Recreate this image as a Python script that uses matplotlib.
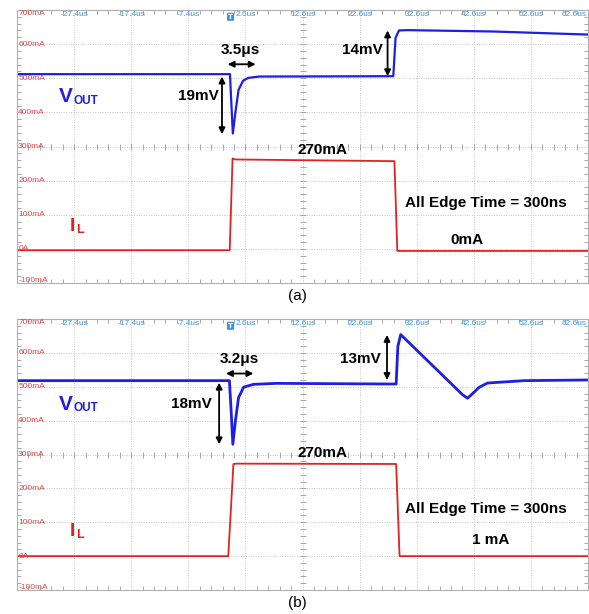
import matplotlib
matplotlib.use("Agg")
import matplotlib.pyplot as plt
import numpy as np

# ---- data (time in us, traces in screen "mA" units) ----
t_vout_a = [-37.4, -0.1, 0.1, 0.4, 0.85, 1.4, 2.2, 3.1, 5.0, 28.5, 28.9, 29.5, 31.0, 46.0, 62.6]
v_vout_a = [512, 512, 440, 338, 400, 466, 493, 501, 505, 506, 619, 640, 641, 637, 628]
t_il_a = [-37.4, -0.15, 0.35, 0.8, 28.7, 29.2, 62.6]
i_il_a = [-4, -4, 265, 262, 257, -6, -6]

t_vout_b = [-37.4, -0.2, 0.1, 0.4, 0.85, 1.4, 2.3, 4.0, 8.0, 29.0, 29.3, 29.8,
            40.6, 41.5, 42.4, 43.5, 45.0, 51.4, 62.6]
v_vout_b = [518, 518, 430, 330, 399, 468, 499, 507, 510, 508, 619, 654,
            477, 466, 480, 498, 511, 518, 520]
t_il_b = [-37.4, -0.4, 0.5, 1.0, 29.0, 29.6, 62.6]
i_il_b = [0, 0, 272, 273, 272, 0, 0]

time_labels = ["-27.4us", "-17.4us", "-7.4us", "2.6us", "12.6us", "22.6us", "32.6us", "42.6us", "52.6us", "62.6us"]
time_ticks = [-27.4, -17.4, -7.4, 2.6, 12.6, 22.6, 32.6, 42.6, 52.6, 62.6]
amp_labels = ["700mA", "600mA", "500mA", "400mA", "300mA", "200mA", "100mA", "0A", "-100mA"]
amp_ticks = [700, 600, 500, 400, 300, 200, 100, 0, -100]

BLUE = "#1f1fe0"
RED = "#e22222"
LBLUE = "#3d93dc"
LRED = "#e04848"
ARIAL = ["Liberation Sans", "DejaVu Sans"]

W, H = 589, 614
fig = plt.figure(figsize=(W / 100, H / 100), dpi=100)


def px_axes(left, top, right, bottom):
    return fig.add_axes([left / W, 1 - bottom / H, (right - left) / W, (bottom - top) / H])


def scope(ax):
    ax.set_xlim(-37.4, 62.6)
    ax.set_ylim(-100, 700)
    ax.set_xticks(np.arange(-37.4, 62.7, 10))
    ax.set_yticks(amp_ticks)
    ax.set_xticks(np.arange(-37.4, 62.7, 2), minor=True)
    ax.set_yticks(np.arange(-100, 701, 20), minor=True)
    ax.tick_params(which="both", direction="in", colors="#9a9a9a", labelbottom=False,
                   labelleft=False, top=True, right=True)
    ax.tick_params(which="major", length=0)
    ax.tick_params(which="minor", length=3, width=0.6)
    ax.grid(True, which="major", color="#c4c4c4", linestyle=(0, (1, 1.5)), linewidth=0.7)
    for s in ax.spines.values():
        s.set_color("#b0b0b0")
        s.set_linewidth(0.8)
    # center crosshair ticks
    ax.plot(np.arange(-37.4, 62.7, 2), [300] * 51, linestyle="none", marker="|",
            color="#9a9a9a", markersize=4, markeredgewidth=0.6)
    ax.plot([12.6] * 41, np.arange(-100, 701, 20), linestyle="none", marker="_",
            color="#9a9a9a", markersize=4, markeredgewidth=0.6)
    for t, lab in zip(time_ticks, time_labels):
        ha = "right" if t > 60 else "center"
        xx = 62.3 if t > 60 else t
        ax.text(xx, 0.982, lab, transform=ax.get_xaxis_transform(), ha=ha, va="center",
                fontsize=6, color=LBLUE, family=ARIAL)
    for v, lab in zip(amp_ticks, amp_labels):
        dy = -10 if v == 700 else (8 if v == -100 else 0)
        ax.text(-37.2, v + dy, lab, ha="left", va="center", fontsize=6, color=LRED, family=ARIAL)
    ax.text(0, 0.975, "T", transform=ax.get_xaxis_transform(), ha="center", va="center",
            fontsize=5, color="white", fontweight="bold",
            bbox=dict(boxstyle="round,pad=0.15", fc=LBLUE, ec="none"))


def vertical_arrow(ax, x, y0, y1):
    ax.annotate("", xy=(x, y0), xytext=(x, y1),
                arrowprops=dict(arrowstyle="<|-|>", color="black", lw=1.3, mutation_scale=9,
                                shrinkA=0, shrinkB=0))


def horizontal_arrow(ax, x0, x1, y):
    ax.annotate("", xy=(x0, y), xytext=(x1, y),
                arrowprops=dict(arrowstyle="<|-|>", color="black", lw=1.3, mutation_scale=9,
                                shrinkA=0, shrinkB=0))


def labels(ax, name, sub, x, y, color, size, subsize, dx):
    ax.text(x, y, name, ha="left", va="baseline", fontsize=size, fontweight="bold",
            color=color, family=ARIAL)
    ax.annotate(sub, xy=(x, y), xytext=(dx, -1), textcoords="offset points", ha="left",
                va="baseline", fontsize=subsize, fontweight="bold", color=color, family=ARIAL)


def big(ax, x, y, s):
    ax.text(x, y, s, ha="center", va="center", fontsize=11, fontweight="bold",
            color="black", family=ARIAL)


# ---------------- panel (a) ----------------
ax1 = px_axes(17, 10, 588, 283)
scope(ax1)
ax1.plot(t_il_a, i_il_a, color=RED, lw=1.3)
ax1.plot(t_vout_a, v_vout_a, color=BLUE, lw=1.6)
horizontal_arrow(ax1, -0.5, 4.4, 541)
big(ax1, 1.7, 583, "3.5μs")
vertical_arrow(ax1, -1.5, 505, 336)
big(ax1, -5.7, 448, "19mV")
vertical_arrow(ax1, 27.5, 506, 640)
big(ax1, 23.1, 583, "14mV")
big(ax1, 16.1, 290, "270mA")
big(ax1, 44.7, 135, "All Edge Time = 300ns")
big(ax1, 41.4, 25, "0mA")
labels(ax1, "V", "OUT", -30.0, 430, BLUE, 15, 8.5, 10.5)
labels(ax1, "I", "L", -28.1, 52, RED, 14, 9, 4.3)
fig.text(297 / W, 1 - 296 / H, "(a)", ha="center", va="center", fontsize=11, family=ARIAL)

# ---------------- panel (b) ----------------
ax2 = px_axes(17, 319, 588, 590)
scope(ax2)
ax2.plot(t_il_b, i_il_b, color=RED, lw=1.3)
ax2.plot(t_vout_b, v_vout_b, color=BLUE, lw=2.0)
horizontal_arrow(ax2, -0.8, 4.0, 539)
big(ax2, 1.5, 583, "3.2μs")
vertical_arrow(ax2, -2.0, 512, 330)
big(ax2, -6.9, 450, "18mV")
vertical_arrow(ax2, 27.4, 520, 653)
big(ax2, 22.8, 581, "13mV")
big(ax2, 16.1, 305, "270mA")
big(ax2, 44.7, 139, "All Edge Time = 300ns")
big(ax2, 45.6, 48, "1 mA")
labels(ax2, "V", "OUT", -30.0, 432, BLUE, 15, 8.5, 10.5)
labels(ax2, "I", "L", -28.1, 58, RED, 14, 9, 4.3)
fig.text(297 / W, 1 - 603 / H, "(b)", ha="center", va="center", fontsize=11, family=ARIAL)

fig.savefig("out.png", dpi=100, facecolor="white")
